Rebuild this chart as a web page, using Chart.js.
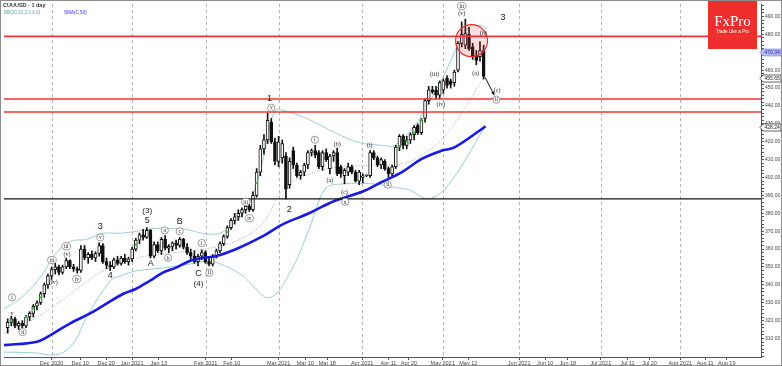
<!DOCTYPE html>
<html><head><meta charset="utf-8">
<script src="https://cdn.jsdelivr.net/npm/chart.js@4/dist/chart.umd.min.js"></script>
<style>html,body{margin:0;padding:0;background:#fff;overflow:hidden}#wrap{position:relative;width:782px;height:366px}</style>
</head><body><div id="wrap"><canvas id="c" width="782" height="366"></canvas></div>
<script>
// ---- DATA ----
// candles: bar index (trading day, 0 = 1 Dec 2020) starts at firstBar
const firstBar = -12;
const openP  = [316,319,321,317,318.5,317,322,324,328,330,335,340,345,348.5,350,347,350,353.5,350,349,348,360,355,357,355,357.5,362,353,351,350,354,352,355,353,354.5,360,365,368,366.5,370.5,356,362.5,359,365.5,360.5,361.5,363.5,362,365.5,361,358,356,353,356,358,353,351.5,356,359,363,367,372,376,378,380,382,384,382,390,403,416,421,431,420,409,411,412,396,415,407,401,403,407,414,415,414,406,414,405,412,414,406,401,403,406,403,398,400,401,401,414,411,407,409,405,402,406,417,423,418,421,424,429,425,433,443,449,449,446,449,455.5,454,453,460,475,474,480,473,468.5,467.5,471];
const highP  = [321,322.5,322,319.5,320,323,325,329,331,336,341,346,350,352,351,351,355,354,351.5,350,362,362,358,359,358.5,363.5,363,355,353,355,356,356,357,355.5,361,366,369,371,372,371,364,364,366.5,367.5,362.5,364,365,366.5,366,363,360,359,357,359.5,359,356,357,360,364,368,373,377,380,382,383,385,385,392,405,418,424,436,433,422,423,421,414,411,417,408,404,408,415,416,418,415,415,416,413,415,416.5,407,405,408,407,404,404,402,401.5,415,415,412,411,410,406,407,418,424,424,423,425,429,430,433,444,451,451,451,454,455,457,455,460,476,487,488.5,484,475,471,476,474];
const lowP   = [313,317,316,315,316,316,320,322,326,329,333,338,343,346,345.5,346,349,349,347.5,346.5,347,354,352,354,353,356,352,349,348,349,351,351,352,351,353,359,363,365,366,355,355,358,357,359.5,358,359,360,361,360,357,354,352,350.5,354,352,350.5,350.5,355,358,362,366,371,374,376,378,380,381,381,389,401,413,419,419,407,406,408,388,394,405,400,399,401,405,412,411,405,404,409,402,409,401,400,396.5,401,402,397.5,396,397,400.5,400,410,406,405,404,400,401,405,415,416,416,419,421,424,424,431,441,447,444,444,447,450,450,451,459,473,472,471,466,463,465,455];
const closeP = [319,321,317,318.5,317,322,324,328,330,335,340,345,348.5,350,347,350,353.5,350,349,348,360,355,357,355,357.5,362,353,351,350,354,352,355,353,354.5,360,365,368,366.5,370.5,356,362.5,359,365.5,360.5,361.5,363.5,362,365.5,361,358,356,353,356,358,353,351.5,356,359,363,367,372,376,378,380,382,384,382,390,403,416,421,432,420,409,420,419,393.5,409,407,401,403,407,414,415,412.5,406,414,410,412,414,402,402,404,406,403,398,403,401,401.2,414,411,407,410,405,402,406,417,423,418,421,424,428,425,432,443,449,448,446,453,454,451.5,452,459,475,480,480.5,472,467.5,465.5,471,456.5];

// SMA(C,50)
const smaIdx = [-13,-4,0.5,5.1,10.5,14.1,19.6,23.1,26.8,30.4,34,37.7,41.3,44.8,50.3,57.6,63,70.3,75.7,79.3,84.8,90.2,95.7,101.1,106.5,110,117.4,118.5];
const smaVal = [306.3,308.2,312.9,318.5,324.0,328.4,335.0,337.8,342.2,346.8,349.6,353.3,355.1,356.0,359.9,367.1,373.7,380.0,385.5,388.3,392.0,397.5,403.0,410.4,415.0,416.8,427.0,428.7];

// Bollinger bands
const bbUpIdx = [-13,-7.6,-2.2,0.5,5.2,9.5,14.1,18.8,23.1,27.7,32.3,36.7,41.3,45.9,50.3,53.5,55.7,57.6,59.5,61.1,63,70.4,77.4,83.9,90.2,93.8,99.2,103,106.5,113.9,117.4,118.8];
const bbUpVal = [326.5,334.0,346.6,356.0,364.3,365.4,368.8,368.8,369.9,371.5,371.5,371.0,368.8,368.8,375.4,383.7,394.7,408.6,427.9,437.3,437.8,432.3,425.1,419.6,418.0,418.0,429.0,441.7,454.4,484.3,484.8,483.2];
const bbMidIdx = [-13,-4.1,5.2,14.1,23.1,32.3,41.3,50.3,57.6,63.9,74.7,88.3,97.6,106.5,112,118.2];
const bbMidVal = [313.0,321.8,335.0,347.8,354.9,357.7,359.9,364.3,374.3,394.7,404.7,406.9,408.6,421.3,436.2,456.7];
const bbLoIdx = [-13,-4.1,-0.3,3.3,6.5,9.5,16,18.8,23.1,30.4,37.8,43.2,48.6,52.2,59.5,65.8,70.4,74.7,79.3,88.3,92.9,97.6,103,108.4,118.2];
const bbLoVal = [302.4,301.9,300.8,302.4,309.0,321.8,342.2,345.0,347.8,349.4,351.6,353.3,349.4,345.0,332.8,349.4,371.5,393.6,396.4,396.4,394.7,393.1,388.1,395.8,427.9];

// green signal dots
const dotIdx = [-11,-7,-5,-3,23,48,56,95,97,99,101];
const dotVal = [320,322,327,333,362.5,369.5,397,417.5,420,425,432];

// horizontal levels
const redLevels = [478.9, 443.9, 436.6];
const blackLevels = [388.1];

// axis ticks
const xTickPos = [0,7.8,14.9,22,29.3,42.1,49.2,62,69.3,75.3,84.8,92,97.6,106.8,113.8,127.7,134.8,141,150,157.3,163.3,171.7,178.5,184.4];
const xTickLabels = ["Dec 2020","Dec 10","Dec 20","Jan 2021","Jan 13","Feb 2021","Feb 10","Mar 2021","Mar 10","Mar 18","Apr 2021","Apr 11","Apr 20","May 2021","May 12","Jun 2021","Jun 10","Jun 18","Jul 2021","Jul 11","Jul 20","Aug 2021","Aug 11","Aug 19"];
const yLabelValues = [310,320,330,340,350,360,370,380,390,400,410,420,430,440,450,460,470,480,490];
const priceBoxes = [[470.34,'hl'],[455.65,'box'],[428.24,'box']];

// wave labels [barIndex, price, text, kind]
const waveLabels = [
 [-10.8,333.0,'i','c'],[-10.8,324.0,'v','s'],[-7.9,313.6,'ii','c'],
 [0.1,353.9,'iii','c'],[0.5,341.3,'(iv)','p'],[4.0,361.6,'iii','c'],[4.2,357.0,'(v)','p'],[6.9,343.2,'iv','c'],
 [13.3,372.6,'3','n'],[13.3,366.5,'v','c'],[16.0,345.0,'4','n'],
 [26.1,381.4,'(3)','n'],[26.1,376.0,'5','n'],[27.1,351.8,'A','n'],
 [30.9,370.4,'a','c'],[31.8,355.1,'b','c'],[35.0,369.9,'c','c'],[35.0,375.3,'B','n'],
 [40.1,346.1,'C','n'],[40.1,340.4,'(4)','n'],[41.0,363.4,'i','c'],[43.1,346.8,'ii','c'],
 [53.0,386.4,'iii','c'],[54.0,377.2,'iv','c'],[60.0,439.0,'v','c'],[59.5,444.2,'1','n'],[64.9,381.9,'2','n'],
 [71.9,421.1,'i','c'],[76.0,398.1,'(a)','p'],[78.0,418.7,'(b)','p'],[80.0,391.6,'(c)','p'],[80.2,386.4,'x','c'],
 [86.9,418.1,'(i)','p'],[91.8,396.0,'ii','c'],
 [104.6,457.8,'(iii)','p'],[106.3,440.8,'(iv)','p'],[112.0,491.5,'(v)','p'],[112.0,495.9,'iii','c'],
 [115.8,458.3,'(a)','p'],[117.9,480.8,'(b)','p'],[123.3,489.3,'3','n'],[121.7,448.5,'(c)','p'],[121.5,443.5,'ii','c']
];
// highlighted zone (circle) and arrow, in data units
const zoneCenter = [114.7, 476.5];
const arrowFrom = [118.4, 456.0];
const arrowTo = [120.9, 446.0];

// ---- BUILD ----
const bodies = [], wicks = [], upFlags = [];
for (let i = 0; i < openP.length; i++) {
  const k = firstBar + i;
  bodies.push({x: k, y: [openP[i], closeP[i]]});
  wicks.push({x: k, y: [lowP[i], highP[i]]});
  upFlags.push(closeP[i] >= openP[i]);
}
const pts = (ix, vals) => ix.map((x, i) => ({x, y: vals[i]}));
const X_MIN = -13, X_MAX = 193.75;
const levelDs = (v, color, w) => ({type:'line', data:[{x:X_MIN,y:v},{x:X_MAX,y:v}], borderColor:color, borderWidth:w, pointRadius:0, order:1});
const monthSet = new Set(xTickLabels.map((l,i)=>/\d{4}$/.test(l)?xTickPos[i]:null).filter(v=>v!==null));

const overlay = {
  id:'overlay',
  beforeDatasetsDraw(chart){
    const {ctx, chartArea:a, scales:{x}} = chart;
    ctx.save();
    ctx.strokeStyle = '#a0a0a0'; ctx.lineWidth = 0.8; ctx.setLineDash([3,3]);
    monthSet.forEach(v => { const px = Math.round(x.getPixelForValue(v)) + 0.5; ctx.beginPath(); ctx.moveTo(px, a.top); ctx.lineTo(px, a.bottom); ctx.stroke(); });
    ctx.setLineDash([]);
    ctx.fillStyle = '#ee2d2d'; ctx.fillRect(708, 0, 49, 49);
    ctx.fillStyle = '#fff'; ctx.textAlign = 'center'; ctx.textBaseline = 'alphabetic';
    ctx.font = '15px "Liberation Serif"'; ctx.fillText('FxPro', 732.5, 26);
    ctx.font = '4.5px "Liberation Sans"'; ctx.fillText('Trade Like a Pro', 732.5, 33);
    ctx.restore();
  },
  afterDatasetsDraw(chart){
    const {ctx, scales:{x, y}} = chart;
    ctx.save();
    const cx = x.getPixelForValue(zoneCenter[0]), cy = y.getPixelForValue(zoneCenter[1]);
    ctx.beginPath(); ctx.arc(cx, cy, 16, 0, Math.PI*2);
    ctx.fillStyle = 'rgba(240,60,60,0.18)'; ctx.fill();
    ctx.strokeStyle = '#e83030'; ctx.lineWidth = 1.2; ctx.stroke();
    const ax1 = x.getPixelForValue(arrowFrom[0]), ay1 = y.getPixelForValue(arrowFrom[1]);
    const ax2 = x.getPixelForValue(arrowTo[0]), ay2 = y.getPixelForValue(arrowTo[1]);
    ctx.strokeStyle = '#111'; ctx.lineWidth = 1; ctx.beginPath(); ctx.moveTo(ax1, ay1); ctx.lineTo(ax2, ay2); ctx.stroke();
    const ang = Math.atan2(ay2-ay1, ax2-ax1);
    ctx.fillStyle = '#111'; ctx.beginPath(); ctx.moveTo(ax2, ay2);
    ctx.lineTo(ax2 - 4*Math.cos(ang-0.45), ay2 - 4*Math.sin(ang-0.45));
    ctx.lineTo(ax2 - 4*Math.cos(ang+0.45), ay2 - 4*Math.sin(ang+0.45)); ctx.closePath(); ctx.fill();
    ctx.textAlign = 'center'; ctx.textBaseline = 'middle';
    waveLabels.forEach(([k, v, t, kind]) => {
      const px = x.getPixelForValue(k), py = y.getPixelForValue(v);
      if (kind === 'n') {
        ctx.font = (t.length > 1 ? '8px' : '9px') + ' "Liberation Sans"'; ctx.fillStyle = '#1a1a1a'; ctx.fillText(t, px, py);
      } else if (kind === 'c') {
        ctx.font = '5.5px "Liberation Serif"';
        const w = ctx.measureText(t).width;
        const rx = Math.max(3.6, w/2 + 2), ry = 3.6;
        ctx.beginPath(); ctx.ellipse(px, py, rx, ry, 0, 0, Math.PI*2);
        ctx.fillStyle = '#fff'; ctx.fill(); ctx.strokeStyle = '#707070'; ctx.lineWidth = 0.7; ctx.stroke();
        ctx.fillStyle = '#222'; ctx.fillText(t, px, py + 0.3);
      } else {
        ctx.font = '6px "Liberation Serif"'; ctx.fillStyle = '#222'; ctx.fillText(t, px, py);
      }
    });
    ctx.restore();
  },
  afterDraw(chart){
    const {ctx, scales:{y}} = chart;
    ctx.save();
    ctx.textAlign = 'left'; ctx.textBaseline = 'middle';
    ctx.fillStyle = '#333'; ctx.font = 'bold 5.5px "Liberation Sans"'; ctx.fillText('CUUUSD - 1 day', 3, 5);
    ctx.font = '4.6px "Liberation Sans"'; ctx.fillStyle = '#5aa8a8'; ctx.fillText('BB(20,20,2.0,3.0)', 4, 13);
    ctx.fillStyle = '#3333ee'; ctx.fillText('SMA(C,50)', 64, 13);
    priceBoxes.forEach(([v, kind]) => {
      const py = Math.round(y.getPixelForValue(v)) + 0.5;
      const x0 = 762, x1 = 781, h = 3.5;
      ctx.beginPath(); ctx.moveTo(x0 - 2, py); ctx.lineTo(x0 + 1, py - h); ctx.lineTo(x1, py - h); ctx.lineTo(x1, py + h); ctx.lineTo(x0 + 1, py + h); ctx.closePath();
      ctx.fillStyle = kind === 'hl' ? '#b4b8f0' : '#ffffff'; ctx.fill();
      ctx.strokeStyle = kind === 'hl' ? '#8a8fe0' : '#222'; ctx.lineWidth = 0.7; ctx.stroke();
      ctx.fillStyle = kind === 'hl' ? '#2a2aa0' : '#222'; ctx.font = '5px "Liberation Sans"'; ctx.textAlign = 'left'; ctx.textBaseline = 'middle';
      ctx.fillText(v.toFixed(2), 764.5, py + 0.3);
    });
    ctx.strokeStyle = '#8c8c8c'; ctx.lineWidth = 1; ctx.strokeRect(0.5, 0.5, 781, 365);
    ctx.restore();
  }
};

new Chart(document.getElementById('c'), {
  type: 'bar',
  data: { datasets: [
    {type:'line', data: pts(bbUpIdx, bbUpVal), borderColor:'#8ec9c9', borderWidth:0.9, pointRadius:0, tension:0.35, order:20},
    {type:'line', data: pts(bbLoIdx, bbLoVal), borderColor:'#8ec9c9', borderWidth:0.9, pointRadius:0, tension:0.35, order:20},
    {type:'line', data: pts(bbMidIdx, bbMidVal), borderColor:'#9a9a9a', borderWidth:0.8, borderDash:[1,1.5], pointRadius:0, tension:0.35, order:20},
    {data: wicks, backgroundColor:'#111', borderWidth:0, barThickness:1, grouped:false, order:12},
    {data: bodies, backgroundColor: upFlags.map(u => u ? '#ffffff' : '#111111'), borderColor:'#111', borderWidth:1, borderSkipped:false, barThickness:3, minBarLength:1, grouped:false, order:11},
    {type:'line', data: pts(smaIdx, smaVal), borderColor:'#1a1ae6', borderWidth:2.6, pointRadius:0, tension:0.35, order:5},
    levelDs(redLevels[0], '#f03535', 1.6), levelDs(redLevels[1], '#f03535', 1.6), levelDs(redLevels[2], '#f03535', 1.6),
    levelDs(blackLevels[0], '#151515', 1.3),
    {type:'line', data: pts(dotIdx, dotVal), showLine:false, pointStyle:'rect', pointRadius:1.6, pointBackgroundColor:'#36c036', pointBorderWidth:0, order:0}
  ]},
  options: {
    responsive:false, devicePixelRatio:1, animation:false,
    layout:{padding:0},
    plugins:{legend:{display:false}, tooltip:{enabled:false}},
    scales:{
      x:{type:'linear', position:'bottom', min:X_MIN, max:X_MAX, offset:false,
         grid:{offset:false, drawOnChartArea:false, drawTicks:true, tickLength:3, tickColor:'#555'},
         border:{color:'#555', width:1},
         afterBuildTicks: s => { s.ticks = xTickPos.map(v => ({value:v})); },
         afterFit: s => { s.height = 9; s.paddingLeft = 0; s.paddingRight = 0; },
         ticks:{autoSkip:false, maxRotation:0, padding:0, color:'#444', font:{size:5.5, family:'Liberation Sans'},
                callback: (v) => { const i = xTickPos.indexOf(v); return i >= 0 ? xTickLabels[i] : ''; }}},
      y:{type:'linear', position:'right', min:299.65, max:497.0,
         grid:{drawOnChartArea:false, drawTicks:true, tickLength:3, tickColor:'#555'},
         border:{color:'#555', width:1},
         afterBuildTicks: s => { const t = []; for (let v = 300; v <= 496; v += 2) t.push({value:v}); s.ticks = t; },
         afterFit: s => { s.width = 21; s.paddingTop = 0; s.paddingBottom = 0; },
         ticks:{autoSkip:false, padding:1, color:'#444', font:{size:5, family:'Liberation Sans'},
                callback: (v) => yLabelValues.includes(v) ? v.toFixed(2) : ''}}
    }
  },
  plugins:[overlay]
});
</script></body></html>
